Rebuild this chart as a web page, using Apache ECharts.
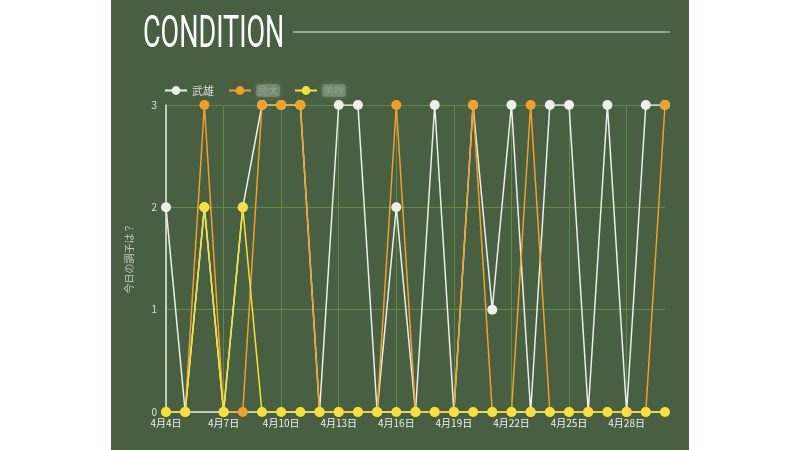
<!DOCTYPE html>
<html>
<head>
<meta charset="utf-8">
<title>CONDITION</title>
<script src="https://cdn.jsdelivr.net/npm/echarts@6/dist/echarts.min.js"></script>
<style>
  html, body { margin: 0; padding: 0; background: #ffffff; }
  #chart { width: 800px; height: 450px; }
</style>
</head>
<body>
<div id="chart"></div>
<script>
// 日付（横軸）
var days = ['4月4日', '4月5日', '4月6日', '4月7日', '4月8日', '4月9日', '4月10日',
	'4月11日', '4月12日', '4月13日', '4月14日', '4月15日', '4月16日', '4月17日',
	'4月18日', '4月19日', '4月20日', '4月21日', '4月22日', '4月23日', '4月24日',
	'4月25日', '4月26日', '4月27日', '4月28日', '4月29日', '4月30日'];
// メンバー名
var memberNames = ['武雄', '良太', '美咲'];
// 今日の調子（0〜3）
var takeoValues = [2, 0, 2, 0, 2, 3, 3, 3, 0, 3, 3, 0, 2, 0, 3, 0, 3, 1, 3, 0, 3, 3, 0, 3, 0, 3, 3];
var ryotaValues = [0, 0, 3, 0, 0, 3, 3, 3, 0, 0, 0, 0, 3, 0, 0, 0, 3, 0, 0, 3, 0, 0, 0, 0, 0, 0, 3];
var misakiValues = [0, 0, 2, 0, 2, 0, 0, 0, 0, 0, 0, 0, 0, 0, 0, 0, 0, 0, 0, 0, 0, 0, 0, 0, 0, 0, 0];
var yTicks = [0, 1, 2, 3];

var colors = ['#eeeeea', '#f0a12c', '#f4e13f'];
var valueList = [takeoValues, ryotaValues, misakiValues];

var dom = document.getElementById('chart');
var myChart = echarts.init(dom);

var series = [];
for (var i = 0; i < memberNames.length; i++) {
	series[i] = {
		name: memberNames[i],
		type: 'line',
		symbol: 'circle',
		symbolSize: 10,
		color: colors[i],
		lineStyle: { width: 1.5, color: colors[i] },
		itemStyle: { color: colors[i] },
		emphasis: { disabled: true },
		data: valueList[i]
	};
}

var option = {
	backgroundColor: '#ffffff',
	animation: false,
	textStyle: { fontFamily: '"Noto Sans CJK JP", "Noto Sans", sans-serif' },
	graphic: [
		{ type: 'rect', z: -10, shape: { x: 111, y: 0, width: 578, height: 450 },
			style: { fill: '#485f42' } },
		{ type: 'text', x: 143, y: 13, scaleX: 0.6, z: 10,
			style: { text: 'CONDITION', fill: '#ffffff', font: '400 45px Roboto' } },
		{ type: 'line', z: 10, shape: { x1: 293, y1: 32, x2: 670, y2: 32 },
			style: { stroke: '#e6e6e0', lineWidth: 1.2 } }
	],
	legend: {
		left: 159,
		top: 79,
		itemWidth: 22,
		itemHeight: 11,
		itemGap: 14,
		data: memberNames,
		// 2人目以降の名前はぼかす
		formatter: function(name) {
			if (name == memberNames[0]) {
				return name;
			}
			return '{b|' + name + '}';
		},
		textStyle: {
			color: '#d8d8d0',
			fontSize: 11,
			rich: {
				b: {
					color: 'rgba(200,205,195,0.3)',
					fontSize: 11,
					backgroundColor: 'rgba(185,195,180,0.3)',
					borderRadius: 3,
					padding: [1, 1],
					shadowBlur: 6,
					shadowColor: 'rgba(185,195,180,0.7)'
				}
			}
		}
	},
	grid: { left: 166, right: 135, top: 105, bottom: 38 },
	xAxis: {
		type: 'category',
		boundaryGap: false,
		data: days,
		axisLine: { lineStyle: { color: '#e8e8e0', width: 1.5 } },
		axisTick: { show: false },
		axisLabel: { interval: 2, color: '#f0f0ea', fontSize: 10, margin: 6 },
		splitLine: { show: true, interval: 2, lineStyle: { color: '#5e8a48', width: 1 } }
	},
	yAxis: {
		type: 'value',
		min: yTicks[0],
		max: yTicks[yTicks.length - 1],
		interval: 1,
		name: '今日の調子は？',
		nameLocation: 'middle',
		nameGap: 32,
		nameTextStyle: { color: '#c8c8c0', fontSize: 10 },
		axisLine: { show: true, lineStyle: { color: '#e8e8e0', width: 1.5 } },
		axisTick: { show: false },
		axisLabel: { color: '#e0e0da', fontSize: 10, margin: 9 },
		splitLine: { lineStyle: { color: '#5e8a48', width: 1 } }
	},
	series: series
};

myChart.setOption(option);
</script>
</body>
</html>
